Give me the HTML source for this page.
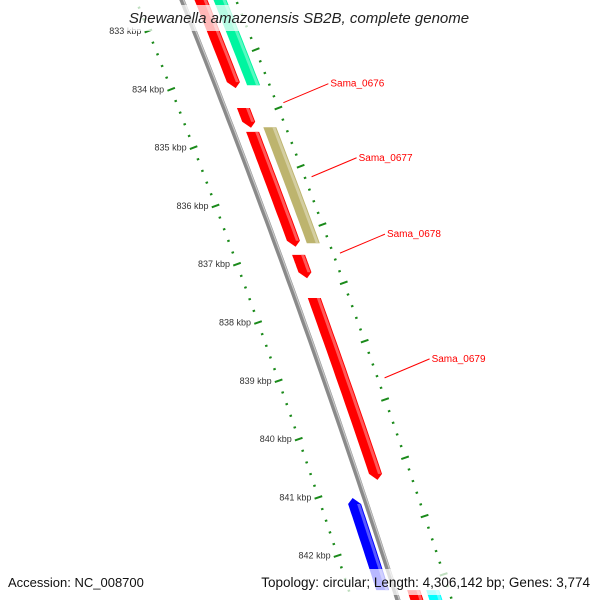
<!DOCTYPE html>
<html><head><meta charset="utf-8"><style>
body{margin:0;background:#fff;overflow:hidden}
svg{display:block;font-family:"Liberation Sans","DejaVu Sans",sans-serif}
</style></head><body>
<svg id="map" width="600" height="600" viewBox="0 0 600 600">
<g id="ticks"></g>
<g id="backbone"></g>
<g id="feats"></g>
<g id="labels"></g>
<rect x="127" y="5" width="346" height="26" fill="#fff" opacity="0.72"/>
<text x="299" y="23" text-anchor="middle" font-size="15" font-style="italic" fill="#222">Shewanella amazonensis SB2B, complete genome</text>
<rect x="0" y="569" width="600" height="26" fill="#fff" opacity="0.72"/>
<text x="8" y="587" font-size="13" fill="#111">Accession: NC_008700</text>
<text x="590" y="587" text-anchor="end" font-size="13.5" fill="#111">Topology: circular; Length: 4,306,142 bp; Genes: 3,774</text>
</svg>
<script>
const featStart=[832.4,834.32,834.73,836.84,837.58,842.59,832.3,834.65,841.01,842.59];
const featEnd=[833.98,834.66,836.7,837.24,840.7,843.3,833.93,836.64,842.59,843.3];
const featStrand=[1,1,1,1,1,0,0,0,-1,0];
const featTrack=[19,19,19,19,19,19,38,38,-12,38];
const featColor=["#ff0000","#ff0000","#ff0000","#ff0000","#ff0000","#ff0000","#00f5a0","#bdb46e","#0000ff","#00ffff"];
const labelNames=["Sama_0676","Sama_0677","Sama_0678","Sama_0679"];
const labelKbp=[834.23,835.5,836.81,838.95];
const majorKbp=[833,834,835,836,837,838,839,840,841,842];
const majorLabels=["833 kbp","834 kbp","835 kbp","836 kbp","837 kbp","838 kbp","839 kbp","840 kbp","841 kbp","842 kbp"];

const NS="http://www.w3.org/2000/svg";
function yOf(k){return 31+(k-833)*58.3;}
function bx(y){return 182+0.4*y-0.000067*y*y;}
function slope(y){return 0.4-2*0.000067*y;}
function pt(k,off){const y=yOf(k);return [bx(y)+off,y];}
function mk(tag,attrs,parent){const e=document.createElementNS(NS,tag);for(const a in attrs)e.setAttribute(a,attrs[a]);parent.appendChild(e);return e;}

// backbone
const bb=document.getElementById('backbone');
let d1="",d2="";
for(let y=-10;y<=610;y+=10){d1+=(y===-10?"M":"L")+bx(y).toFixed(1)+","+y;d2+=(y===-10?"M":"L")+(bx(y)+1.5).toFixed(1)+","+y;}
const bl=mk('path',{d:d1,stroke:"#8a8a8a","stroke-width":5,fill:"none"},bb);


mk('path',{d:d2,stroke:"#c8c8c8","stroke-width":1.2,fill:"none"},bb);

// ticks
const tg=document.getElementById('ticks');
function tick(k,off,len,w){
  const [x,y]=pt(k,off);const s=slope(y);const n=Math.hypot(1,s);
  const ux=1/n,uy=-s/n;
  const t=mk('line',{x1:x-ux*len/2,y1:y-uy*len/2,x2:x+ux*len/2,y2:y+uy*len/2,stroke:"#1a8a1a","stroke-width":w},tg);
  
  
}
for(let i=-10;i<=60;i++){
  const k=832+i*0.2;
  tick(k,-46,(i%5===0)?8:2.5,2);
  const k2=832.32+i*0.2;
  tick(k2,54,(i%5===0)?8:2.5,2);
}
majorKbp.forEach((k,i)=>{
  const [x,y]=pt(k,-46);
  const t=mk('text',{x:x-7,y:y+3,"text-anchor":"end","font-size":"9",fill:"#333"},tg);
  t.textContent=majorLabels[i];
  
  
});

// features
const fg=document.getElementById('feats');
function lighten(c,f){const n=parseInt(c.slice(1),16);let r=n>>16,g=(n>>8)&255,b=n&255;r=Math.round(r+(255-r)*f);g=Math.round(g+(255-g)*f);b=Math.round(b+(255-b)*f);return `rgb(${r},${g},${b})`;}
featStart.forEach((s,i)=>{
  const e=featEnd[i],off=featTrack[i],w=13,str=featStrand[i];
  const L=[],R=[];const steps=20;
  let ks=s,ke=e;const ah=6/58.3;
  if(str===1)ke=e-ah; if(str===-1)ks=s+ah;
  for(let j=0;j<=steps;j++){const k=ks+(ke-ks)*j/steps;L.push(pt(k,off-w/2));R.push(pt(k,off+w/2));}
  let pts=[...L];
  if(str===1)pts.push(pt(e,off));
  pts=pts.concat(R.slice().reverse());
  if(str===-1)pts.push(pt(s,off));
  const p=mk('polygon',{points:pts.map(q=>q[0].toFixed(1)+","+q[1].toFixed(1)).join(" "),fill:featColor[i]},fg);
  
  
  const H=[];for(let j=0;j<=steps;j++){const k=ks+(ke-ks)*j/steps;H.push(pt(k,off+w/2-4));}
  for(let j=steps;j>=0;j--){const k=ks+(ke-ks)*j/steps;H.push(pt(k,off+w/2-1));}
  mk('polygon',{points:H.map(q=>q[0].toFixed(1)+","+q[1].toFixed(1)).join(" "),fill:lighten(featColor[i],0.35)},fg);
});

// labels
const lg=document.getElementById('labels');
labelNames.forEach((n,i)=>{
  const [x,y]=pt(labelKbp[i],61);
  const ln=mk('line',{x1:x,y1:y,x2:x+45,y2:y-19,stroke:"#ff0000","stroke-width":1},lg);
  
  
  const t=mk('text',{x:x+47,y:y-16,"font-size":"10",fill:"#ff0000"},lg);
  t.textContent=n;
  
  
});
</script>
</body></html>
